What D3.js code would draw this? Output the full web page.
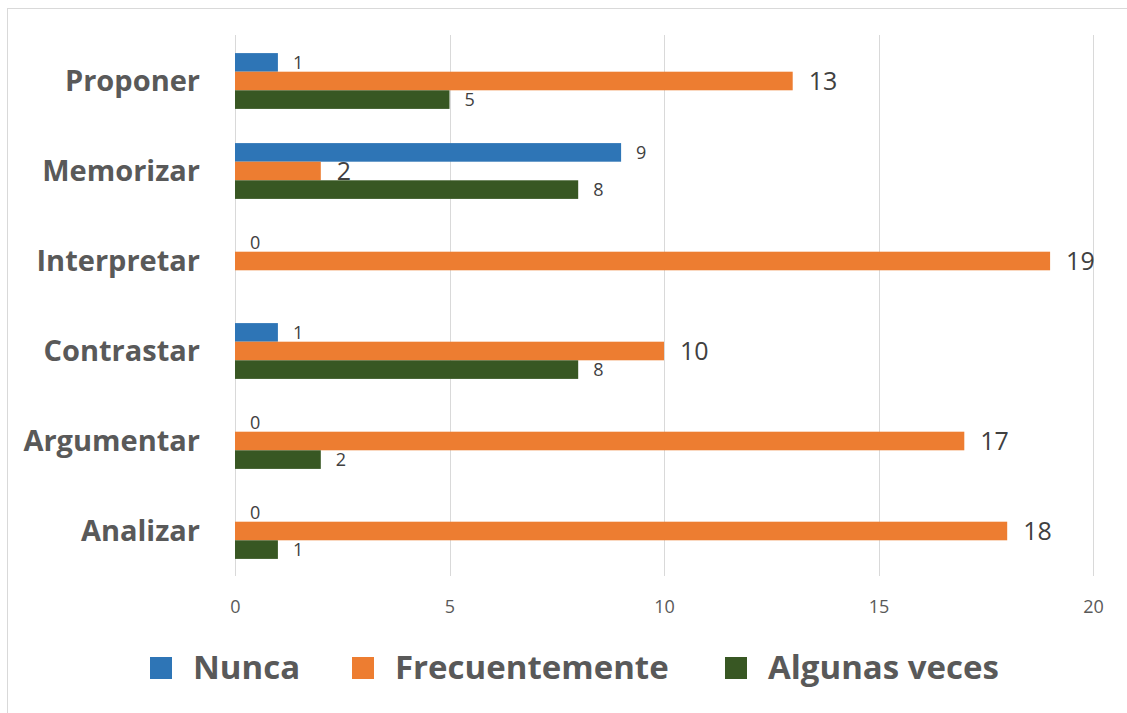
<!DOCTYPE html>
<html>
<head>
<meta charset="utf-8">
<script src="https://cdn.jsdelivr.net/npm/d3@7"></script>
<style>
  body { margin: 0; background: #fff; }
  svg { font-family: "Open Sans", sans-serif; }
</style>
</head>
<body>
<svg id="graph" width="1127" height="713"></svg>
<script>
const categories = ["Proponer", "Memorizar", "Interpretar", "Contrastar", "Argumentar", "Analizar"];
const seriesNames = ["Nunca", "Frecuentemente", "Algunas veces"];
const nunca = [1, 9, 0, 1, 0, 0];
const frecuentemente = [13, 2, 19, 10, 17, 18];
const algunasVeces = [5, 8, null, 8, 2, 1];
const xTicks = [0, 5, 10, 15, 20];

const colors = ["#2e75b6", "#ed7d31", "#385723"];
const values = [nunca, frecuentemente, algunasVeces];

const width = 1127, height = 713;
const plot = { left: 235, right: 1093, top: 36, bottom: 576 };

const svg = d3.select("#graph");

// chart frame
svg.append("rect")
  .attr("x", 7.5).attr("y", 8.5)
  .attr("width", width).attr("height", height)
  .attr("fill", "none")
  .attr("stroke", "#d9d9d9");

const x = d3.scaleLinear().domain([0, 20]).range([plot.left, plot.right]);

const y = d3.scaleBand()
  .domain(categories)
  .range([plot.top, plot.bottom])
  .paddingInner(0.38)
  .paddingOuter(0.19);

const ySub = d3.scaleBand()
  .domain(seriesNames)
  .range([0, y.bandwidth()]);

// gridlines
svg.append("g")
  .selectAll("line")
  .data(xTicks)
  .join("line")
  .attr("x1", d => Math.round(x(d)) + 0.5)
  .attr("x2", d => Math.round(x(d)) + 0.5)
  .attr("y1", 35)
  .attr("y2", plot.bottom)
  .attr("stroke", "#d9d9d9");

// x axis labels
svg.append("g")
  .attr("transform", `translate(0,${plot.bottom})`)
  .call(d3.axisBottom(x).tickValues(xTicks).tickSize(0).tickPadding(24))
  .call(g => g.select(".domain").remove())
  .call(g => g.selectAll("text")
    .attr("fill", "#595959")
    .style("font-size", "18px")
    .style("font-family", "'Open Sans', sans-serif"));

// category labels
svg.append("g")
  .selectAll("text")
  .data(categories)
  .join("text")
  .attr("x", 200)
  .attr("y", d => y(d) + y.bandwidth() / 2)
  .attr("dy", "0.35em")
  .attr("text-anchor", "end")
  .attr("fill", "#595959")
  .style("font-size", "29px")
  .style("font-weight", "bold")
  .text(d => d);

// bars + labels
const rows = [];
seriesNames.forEach((s, si) => {
  categories.forEach((c, ci) => {
    const v = values[si][ci];
    if (v !== null) rows.push({ series: s, si, cat: c, value: v });
  });
});

svg.append("g")
  .selectAll("rect")
  .data(rows.filter(d => d.value > 0))
  .join("rect")
  .attr("x", x(0))
  .attr("y", d => y(d.cat) + ySub(d.series))
  .attr("width", d => x(d.value) - x(0))
  .attr("height", ySub.bandwidth())
  .attr("fill", d => colors[d.si]);

svg.append("g")
  .selectAll("text")
  .data(rows)
  .join("text")
  .attr("x", d => x(d.value) + (d.si === 1 ? 16 : 15))
  .attr("y", d => y(d.cat) + ySub(d.series) + ySub.bandwidth() / 2)
  .attr("dy", "0.36em")
  .attr("fill", "#404040")
  .style("font-size", d => d.si === 1 ? "25px" : "18px")
  .text(d => d.value);

// legend
const legendX = [150, 352, 725];
const legend = svg.append("g")
  .selectAll("g")
  .data(seriesNames)
  .join("g")
  .attr("transform", (d, i) => `translate(${legendX[i]},657)`);

legend.append("rect")
  .attr("width", 22)
  .attr("height", 22)
  .attr("fill", (d, i) => colors[i]);

legend.append("text")
  .attr("x", 43)
  .attr("y", 22)
  .attr("fill", "#595959")
  .style("font-size", "33px")
  .style("font-weight", "bold")
  .text(d => d);
</script>
</body>
</html>
